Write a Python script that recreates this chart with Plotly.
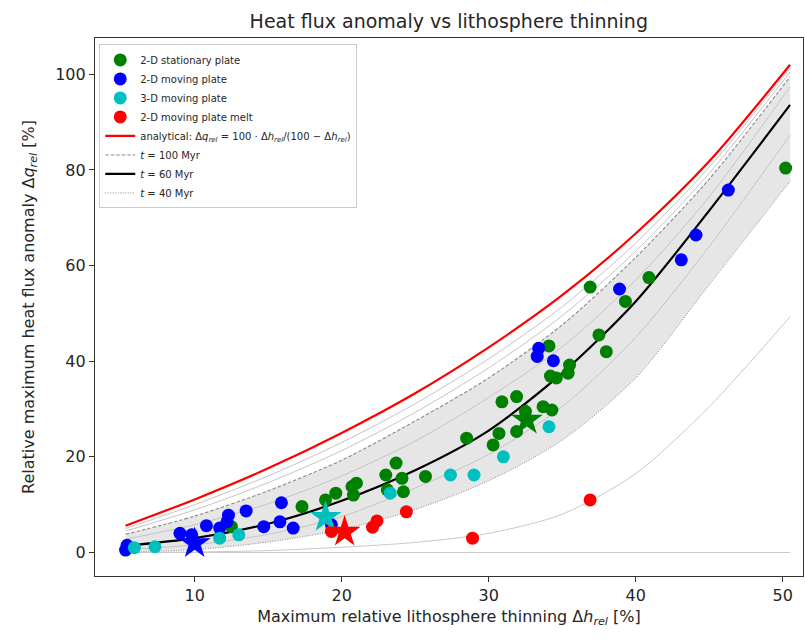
import plotly.graph_objects as go

# ---------------- data ----------------
# common x grid for model curves (Δh_rel, %)
curve_x = [5.3, 10, 15, 20, 25, 30, 35, 40, 45, 50.5]
analytical = [5.6, 11.1, 17.6, 25.0, 33.3, 42.9, 53.8, 66.7, 81.8, 102.0]
gray_a = [5.0, 10.0, 16.0, 23.0, 31.1, 40.5, 51.4, 64.7, 80.6, 101.3]
gray_b = [4.5, 8.9, 14.6, 21.3, 29.3, 38.6, 49.5, 63.0, 79.3, 100.5]
t100 = [3.8, 7.6, 12.9, 19.3, 27.5, 36.5, 47.6, 61.7, 78.1, 99.5]
t80 = [2.8, 5.8, 10.2, 16.0, 23.3, 32.4, 43.0, 57.0, 74.4, 97.4]
t60 = [1.4, 3.0, 6.0, 10.8, 17.2, 25.5, 37.5, 52.5, 71.5, 93.6]
t50 = [0.6, 1.6, 3.8, 7.5, 13.5, 20.5, 30.5, 45.0, 64.0, 87.3]
t40 = [0.1, 0.6, 2.2, 4.8, 9.0, 15.0, 23.5, 36.5, 56.0, 77.6]
t20 = [0.0, 0.1, 0.4, 1.1, 2.1, 4.0, 8.0, 16.5, 30.5, 49.3]
t0 = [0, 0, 0, 0, 0, 0, 0, 0, 0, 0]

green_x = [30.9, 31.9, 32.5, 33.7, 34.3, 31.9, 30.7, 30.3, 28.5, 25.7, 23.7, 24.1, 23.0,
           24.2, 23.1, 21.0, 20.7, 20.8, 19.6, 36.9, 39.3, 37.5, 38.0, 34.1, 35.5, 35.4,
           34.2, 34.6, 50.2, 40.9, 12.5, 17.3, 18.9]
green_y = [31.5, 32.6, 29.5, 30.5, 29.8, 25.3, 24.9, 22.5, 23.9, 15.9, 18.7, 15.5, 16.2,
           12.7, 13.1, 14.5, 13.8, 12.0, 12.4, 55.5, 52.5, 45.5, 42.0, 43.2, 39.2, 37.5,
           36.9, 36.5, 80.4, 57.5, 5.4, 9.6, 11.0]
blue_x = [5.3, 5.4, 9.0, 9.8, 10.8, 12.3, 12.2, 11.7, 13.5, 14.7, 15.9, 15.8, 16.7, 19.3,
          33.4, 33.3, 34.4, 38.9, 46.3, 44.1, 43.1]
blue_y = [0.5, 1.5, 4.0, 3.7, 5.6, 7.8, 6.4, 5.1, 8.7, 5.4, 10.4, 6.4, 5.1, 5.8,
          42.7, 41.0, 40.1, 55.1, 75.8, 66.4, 61.2]
cyan_x = [5.9, 7.3, 11.7, 13.0, 23.3, 27.4, 29.0, 31.0, 34.1]
cyan_y = [1.0, 1.2, 3.0, 3.7, 12.4, 16.2, 16.2, 20.0, 26.3]
red_x = [19.3, 22.1, 22.4, 24.4, 28.9, 36.9]
red_y = [4.4, 5.3, 6.6, 8.5, 3.0, 11.0]

star_x = [10.0, 18.9, 20.2, 32.6]
star_y = [1.9, 7.4, 4.3, 27.7]
star_colors = ["#0000ff", "#00bfbf", "#ff0000", "#008000"]

# ---------------- figure ----------------
fig = go.Figure()
LINE = dict(shape="spline", smoothing=0.8)

def curve(y, color, width, dash="solid", name=None, show=False, rank=1000):
    fig.add_trace(go.Scatter(
        x=curve_x, y=y, mode="lines", name=name, showlegend=show,
        line=dict(color=color, width=width, dash=dash, **LINE),
        legendrank=rank, hoverinfo="skip"))

# grey band between t=40 and t=100 (fill only, no legend)
fig.add_trace(go.Scatter(x=curve_x, y=t40, mode="lines", showlegend=False,
                         line=dict(width=0, **LINE), hoverinfo="skip"))
fig.add_trace(go.Scatter(x=curve_x, y=t100, mode="lines", showlegend=False,
                         line=dict(width=0, **LINE), fill="tonexty",
                         fillcolor="rgba(200,200,200,0.45)", hoverinfo="skip"))

curve(gray_a, "#c4c4c4", 1)
curve(gray_b, "#c4c4c4", 1)
curve(t80, "#c4c4c4", 1)
curve(t50, "#c4c4c4", 1)
curve(t20, "#c8c8c8", 1)
curve(t0, "#c8c8c8", 1)
curve(t40, "#8a8a8a", 1, dash="1px,1.5px", name="<i>t</i> = 40 Myr", show=True, rank=8)
curve(t100, "#8a8a8a", 1.1, dash="3.5px,2px", name="<i>t</i> = 100 Myr", show=True, rank=6)
curve(analytical, "#ff0000", 2.2,
      name="analytical: Δ<i>q<sub>rel</sub></i> = 100 · Δ<i>h<sub>rel</sub></i>/(100 − Δ<i>h<sub>rel</sub></i>)",
      show=True, rank=5)
curve(t60, "#000000", 2.2, name="<i>t</i> = 60 Myr", show=True, rank=7)

def pts(x, y, color, name, rank):
    fig.add_trace(go.Scatter(
        x=x, y=y, mode="markers", name=name, legendrank=rank,
        marker=dict(color=color, size=13, line=dict(width=0))))

pts(green_x, green_y, "#008000", "2-D stationary plate", 1)
pts(blue_x, blue_y, "#0000ff", "2-D moving plate", 2)
pts(cyan_x, cyan_y, "#00bfbf", "3-D moving plate", 3)
pts(red_x, red_y, "#ff0000", "2-D moving plate melt", 4)

fig.add_trace(go.Scatter(
    x=star_x, y=star_y, mode="markers", showlegend=False,
    marker=dict(symbol="star", size=24, color=star_colors, line=dict(width=0))))

axis_common = dict(
    showline=True, linecolor="#333333", linewidth=1.2, mirror=True,
    ticks="outside", ticklen=5, tickcolor="#333333", showgrid=False, zeroline=False,
    tickfont=dict(size=16, color="#262626"),
)

fig.update_layout(
    width=805, height=641,
    margin=dict(l=95, r=2, t=38, b=65),
    paper_bgcolor="white", plot_bgcolor="white",
    font=dict(family="DejaVu Sans", color="#262626"),
    title=dict(text="Heat flux anomaly vs lithosphere thinning", x=0.5575, xanchor="center",
               y=0.967, yanchor="middle", font=dict(size=19)),
    xaxis=dict(range=[3.22, 51.38], tickvals=[10, 20, 30, 40, 50],
               title=dict(text="Maximum relative lithosphere thinning Δ<i>h<sub>rel</sub></i> [%]",
                          font=dict(size=16), standoff=6),
               **axis_common),
    yaxis=dict(range=[-4.92, 107.6], tickvals=[0, 20, 40, 60, 80, 100],
               title=dict(text="Relative maximum heat flux anomaly Δ<i>q<sub>rel</sub></i> [%]",
                          font=dict(size=16), standoff=16),
               **axis_common),
    legend=dict(x=0.006, y=0.988, xanchor="left", yanchor="top", traceorder="normal",
                bgcolor="rgba(255,255,255,0.9)", bordercolor="#cccccc", borderwidth=1,
                font=dict(size=10), tracegroupgap=0, itemwidth=30),
    showlegend=True,
)

fig.write_html("out.html")
